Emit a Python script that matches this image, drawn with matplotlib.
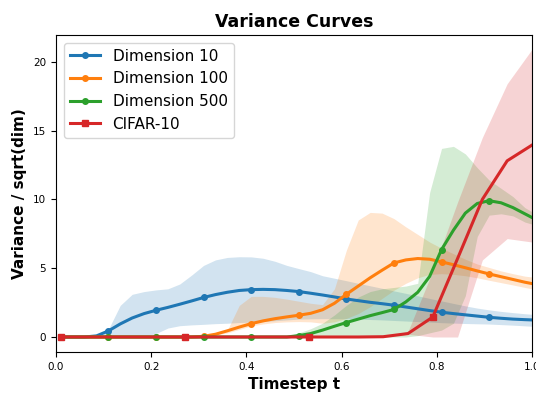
import numpy as np
import matplotlib
matplotlib.use("Agg")
import matplotlib.pyplot as plt

# time grids
t = np.append(np.arange(0.01, 0.99, 0.025), 1.0)   # 41 points, dense curves
t_cifar = np.linspace(0.01, 1.0, 20)                # 20 points, CIFAR run

# Dimension 10
dim10_mean = [0.00, 0.00, 0.00, 0.08, 0.44, 0.95, 1.38, 1.70, 1.94, 2.15,
              2.38, 2.62, 2.87, 3.08, 3.25, 3.38, 3.44, 3.46, 3.44, 3.38,
              3.30, 3.18, 3.05, 2.91, 2.76, 2.64, 2.52, 2.42, 2.31, 2.18,
              2.05, 1.92, 1.80, 1.70, 1.61, 1.52, 1.43, 1.36, 1.30, 1.26, 1.24]
dim10_hi = [0.00, 0.00, 0.00, 0.10, 0.55, 2.30, 3.10, 3.30, 3.42, 3.50,
            3.85, 4.50, 5.20, 5.60, 5.78, 5.83, 5.82, 5.72, 5.50, 5.20,
            4.97, 4.75, 4.45, 4.27, 4.09, 3.90, 3.72, 3.54, 3.35, 3.17,
            2.99, 2.80, 2.62, 2.44, 2.26, 2.10, 1.97, 1.86, 1.77, 1.69, 1.65]
dim10_lo = [0.00, 0.00, 0.00, 0.00, 0.00, 0.00, 0.00, 0.00, 0.25, 0.65,
            0.82, 0.88, 0.92, 0.97, 1.00, 1.05, 1.08, 1.12, 1.18, 1.24,
            1.30, 1.32, 1.33, 1.33, 1.32, 1.30, 1.27, 1.24, 1.20, 1.16,
            1.12, 1.08, 1.04, 1.01, 0.98, 0.96, 0.94, 0.90, 0.86, 0.81, 0.78]

# Dimension 100
dim100_mean = [0.00, 0.00, 0.00, 0.00, 0.00, 0.00, 0.00, 0.00, 0.00, 0.00,
               0.00, 0.00, 0.05, 0.20, 0.45, 0.72, 0.97, 1.17, 1.33, 1.46,
               1.58, 1.72, 1.98, 2.45, 3.10, 3.70, 4.30, 4.85, 5.38, 5.60,
               5.70, 5.65, 5.46, 5.25, 5.03, 4.80, 4.58, 4.38, 4.18, 3.98, 3.88]
dim100_hi = [0.00, 0.00, 0.00, 0.00, 0.00, 0.00, 0.00, 0.00, 0.00, 0.00,
             0.00, 0.00, 0.05, 0.20, 0.50, 2.30, 2.95, 2.95, 2.88, 2.75,
             2.60, 2.45, 2.35, 3.50, 6.30, 8.50, 9.05, 9.00, 8.60, 8.00,
             7.45, 6.90, 6.45, 6.05, 5.65, 5.30, 5.05, 4.80, 4.60, 4.42, 4.36]
dim100_lo = [0.00, 0.00, 0.00, 0.00, 0.00, 0.00, 0.00, 0.00, 0.00, 0.00,
             0.00, 0.00, 0.05, 0.15, 0.30, 0.55, 0.80, 0.95, 1.05, 1.10,
             1.12, 1.10, 1.00, 1.10, 1.35, 1.70, 2.20, 2.80, 3.40, 3.90,
             4.30, 4.55, 4.60, 4.55, 4.45, 4.30, 4.12, 3.95, 3.78, 3.60, 3.50]

# Dimension 500
dim500_mean = [0.00, 0.00, 0.00, 0.00, 0.00, 0.00, 0.00, 0.00, 0.00, 0.00,
               0.00, 0.00, 0.00, 0.00, 0.00, 0.00, 0.00, 0.00, 0.00, 0.00,
               0.10, 0.25, 0.50, 0.78, 1.05, 1.30, 1.55, 1.77, 2.00, 2.55,
               3.25, 4.40, 6.35, 7.76, 9.00, 9.70, 9.90, 9.75, 9.40, 8.95, 8.68]
dim500_hi = [0.00, 0.00, 0.00, 0.00, 0.00, 0.00, 0.00, 0.00, 0.00, 0.00,
             0.00, 0.00, 0.00, 0.00, 0.00, 0.00, 0.00, 0.00, 0.00, 0.05,
             0.30, 0.60, 1.00, 1.60, 2.30, 2.90, 3.30, 3.50, 3.60, 3.70,
             3.90, 10.50, 13.70, 13.85, 13.30, 12.30, 11.40, 10.80, 10.20, 9.40, 9.10]
dim500_lo = [0.00, 0.00, 0.00, 0.00, 0.00, 0.00, 0.00, 0.00, 0.00, 0.00,
             0.00, 0.00, 0.00, 0.00, 0.00, 0.00, 0.00, 0.00, 0.00, 0.00,
             0.00, 0.00, 0.00, 0.00, 0.00, 0.00, 0.00, 0.00, 0.00, 0.00,
             0.10, 0.30, 0.50, 1.00, 3.00, 7.30, 8.85, 8.95, 8.80, 8.35, 8.20]

# CIFAR-10
cifar_mean = [0.00, 0.00, 0.00, 0.00, 0.00, 0.00, 0.00, 0.00, 0.00, 0.00,
              0.00, 0.00, 0.00, 0.02, 0.25, 1.45, 5.70, 10.00, 12.80, 13.94]
cifar_hi = [0.00, 0.00, 0.00, 0.00, 0.00, 0.00, 0.00, 0.00, 0.00, 0.00,
            0.00, 0.00, 0.00, 0.02, 0.40, 4.80, 9.80, 14.50, 18.40, 20.90]
cifar_lo = [0.00, 0.00, 0.00, 0.00, 0.00, 0.00, 0.00, 0.00, 0.00, 0.00,
            0.00, 0.00, 0.00, 0.02, 0.20, 0.00, 0.00, 5.60, 7.15, 6.90]

series = [
    ("Dimension 10", t, dim10_mean, dim10_lo, dim10_hi, "tab:blue", "o", range(0, 40, 4)),
    ("Dimension 100", t, dim100_mean, dim100_lo, dim100_hi, "tab:orange", "o", range(0, 40, 4)),
    ("Dimension 500", t, dim500_mean, dim500_lo, dim500_hi, "tab:green", "o", range(0, 40, 4)),
    ("CIFAR-10", t_cifar, cifar_mean, cifar_lo, cifar_hi, "tab:red", "s", range(0, 20, 5)),
]

fig = plt.figure(figsize=(5.36, 3.94), dpi=100)
ax = fig.add_axes([0.1045, 0.1066, 0.888, 0.8046])

for name, x, m, lo, hi, c, mk, me in series:
    ax.fill_between(x, lo, hi, color=c, alpha=0.2, linewidth=0)
for name, x, m, lo, hi, c, mk, me in series:
    ax.plot(x, m, color=c, marker=mk, markevery=list(me), markersize=4,
            linewidth=2.2, label=name)

ax.set_xlim(0, 1.0)
ax.set_ylim(-1.09, 21.94)
ax.set_xticks([0.0, 0.2, 0.4, 0.6, 0.8, 1.0])
ax.set_yticks([0, 5, 10, 15, 20])
ax.tick_params(labelsize=7.5)
ax.set_xlabel("Timestep t", fontsize=11, fontweight="bold")
ax.set_ylabel("Variance / sqrt(dim)", fontsize=11, fontweight="bold")
ax.set_title("Variance Curves", fontsize=12.5, fontweight="bold")
ax.legend(loc="upper left", fontsize=11)

fig.savefig("out.png", dpi=100)
